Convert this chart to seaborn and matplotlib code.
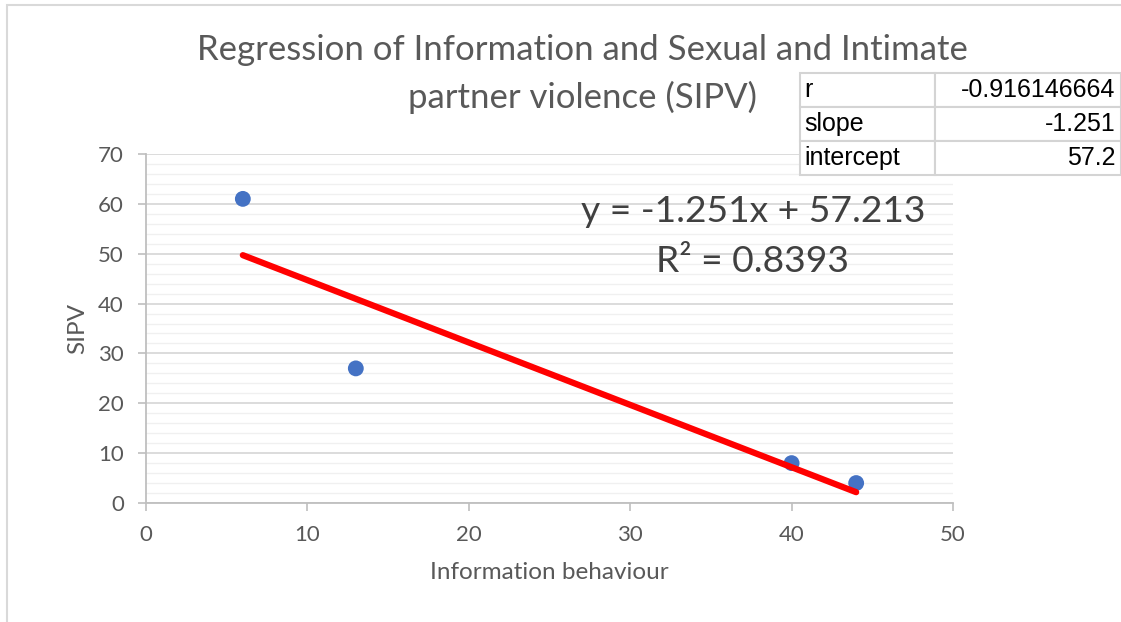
import numpy as np
import pandas as pd
import matplotlib
matplotlib.use("Agg")
import matplotlib.pyplot as plt
from matplotlib.patches import Rectangle
from matplotlib.ticker import MultipleLocator
import seaborn as sns

# data
info_behaviour = [6, 13, 40, 44]
sipv = [61, 27, 8, 4]
stat_names = ["r", "slope", "intercept"]
stat_values = ["-0.916146664", "-1.251", "57.2"]
equation = "y = -1.251x + 57.213"
r_squared = "R² = 0.8393"
title = "Regression of Information and Sexual and Intimate\npartner violence (SIPV)"

df = pd.DataFrame({"Information behaviour": info_behaviour, "SIPV": sipv})

sns.set_theme(style="white")
plt.rcParams["font.family"] = ["Lato", "DejaVu Sans"]

W, H = 1121, 622
fig = plt.figure(figsize=(W / 100, H / 100), dpi=100)
ax = fig.add_axes([146 / W, 1 - 503 / H, (953 - 146) / W, (503 - 154) / H])

# outer chart frame
fig.patches.append(Rectangle((7 / W, -0.05), 1.2, 1 - 5 / H + 0.05,
                             transform=fig.transFigure, fill=False,
                             edgecolor="#d9d9d9", linewidth=1.5, zorder=0))

ax.set_xlim(0, 50)
ax.set_ylim(0, 70)
ax.xaxis.set_major_locator(MultipleLocator(10))
ax.yaxis.set_major_locator(MultipleLocator(10))
ax.yaxis.set_minor_locator(MultipleLocator(2))
ax.grid(axis="y", which="major", color="#d9d9d9", linewidth=1.3)
ax.grid(axis="y", which="minor", color="#f0f0f0", linewidth=1.0)
ax.set_axisbelow(True)
for side in ["top", "right"]:
    ax.spines[side].set_visible(False)
for side in ["left", "bottom"]:
    ax.spines[side].set_color("#bfbfbf")
    ax.spines[side].set_linewidth(1.3)
ax.tick_params(axis="both", which="major", direction="out", length=6, width=1.2,
               color="#bfbfbf", labelsize=16, labelcolor="#595959", pad=10)
ax.tick_params(axis="y", which="minor", length=0)
ax.tick_params(left=True, bottom=True)

sns.scatterplot(data=df, x="Information behaviour", y="SIPV", ax=ax,
                color="#4472c4", s=130, edgecolor="none", zorder=3)
sns.regplot(data=df, x="Information behaviour", y="SIPV", ax=ax, scatter=False,
            ci=None, truncate=True,
            line_kws={"color": "#ff0000", "linewidth": 4.5,
                      "solid_capstyle": "round", "zorder": 4})

ax.set_xlabel("Information behaviour", fontsize=17.5, color="#595959", labelpad=12)
ax.set_ylabel("SIPV", fontsize=17.5, color="#595959", labelpad=7)

fig.text(582 / W, 1 - 74 / H, title, ha="center", va="center", fontsize=25,
         color="#595959", linespacing=1.55)

ax.text(37.6, 58.5, equation, ha="center", va="center",
        fontsize=26.8, color="#404040")
ax.text(37.6, 48.5, r_squared, ha="center", va="center",
        fontsize=26.8, color="#404040")

# stats table in the top right
tab_ax = fig.add_axes([800 / W, 1 - 175 / H, (1121 - 800) / W, (175 - 73) / H])
tab_ax.axis("off")
cells = [[n, v] for n, v in zip(stat_names, stat_values)]
tbl = tab_ax.table(cellText=cells, bbox=[0, 0, 1, 1],
                   colWidths=[(935 - 800) / (1121 - 800), (1121 - 935) / (1121 - 800)])
tbl.auto_set_font_size(False)
for (row, col), cell in tbl.get_celld().items():
    cell.set_edgecolor("#d4d4d4")
    cell.set_linewidth(1.5)
    cell.set_facecolor("white")
    txt = cell.get_text()
    txt.set_fontsize(18)
    txt.set_fontfamily("Liberation Sans")
    txt.set_color("black")
    txt.set_ha("left" if col == 0 else "right")
    cell.PAD = 0.03

fig.savefig("out.png", dpi=100)
